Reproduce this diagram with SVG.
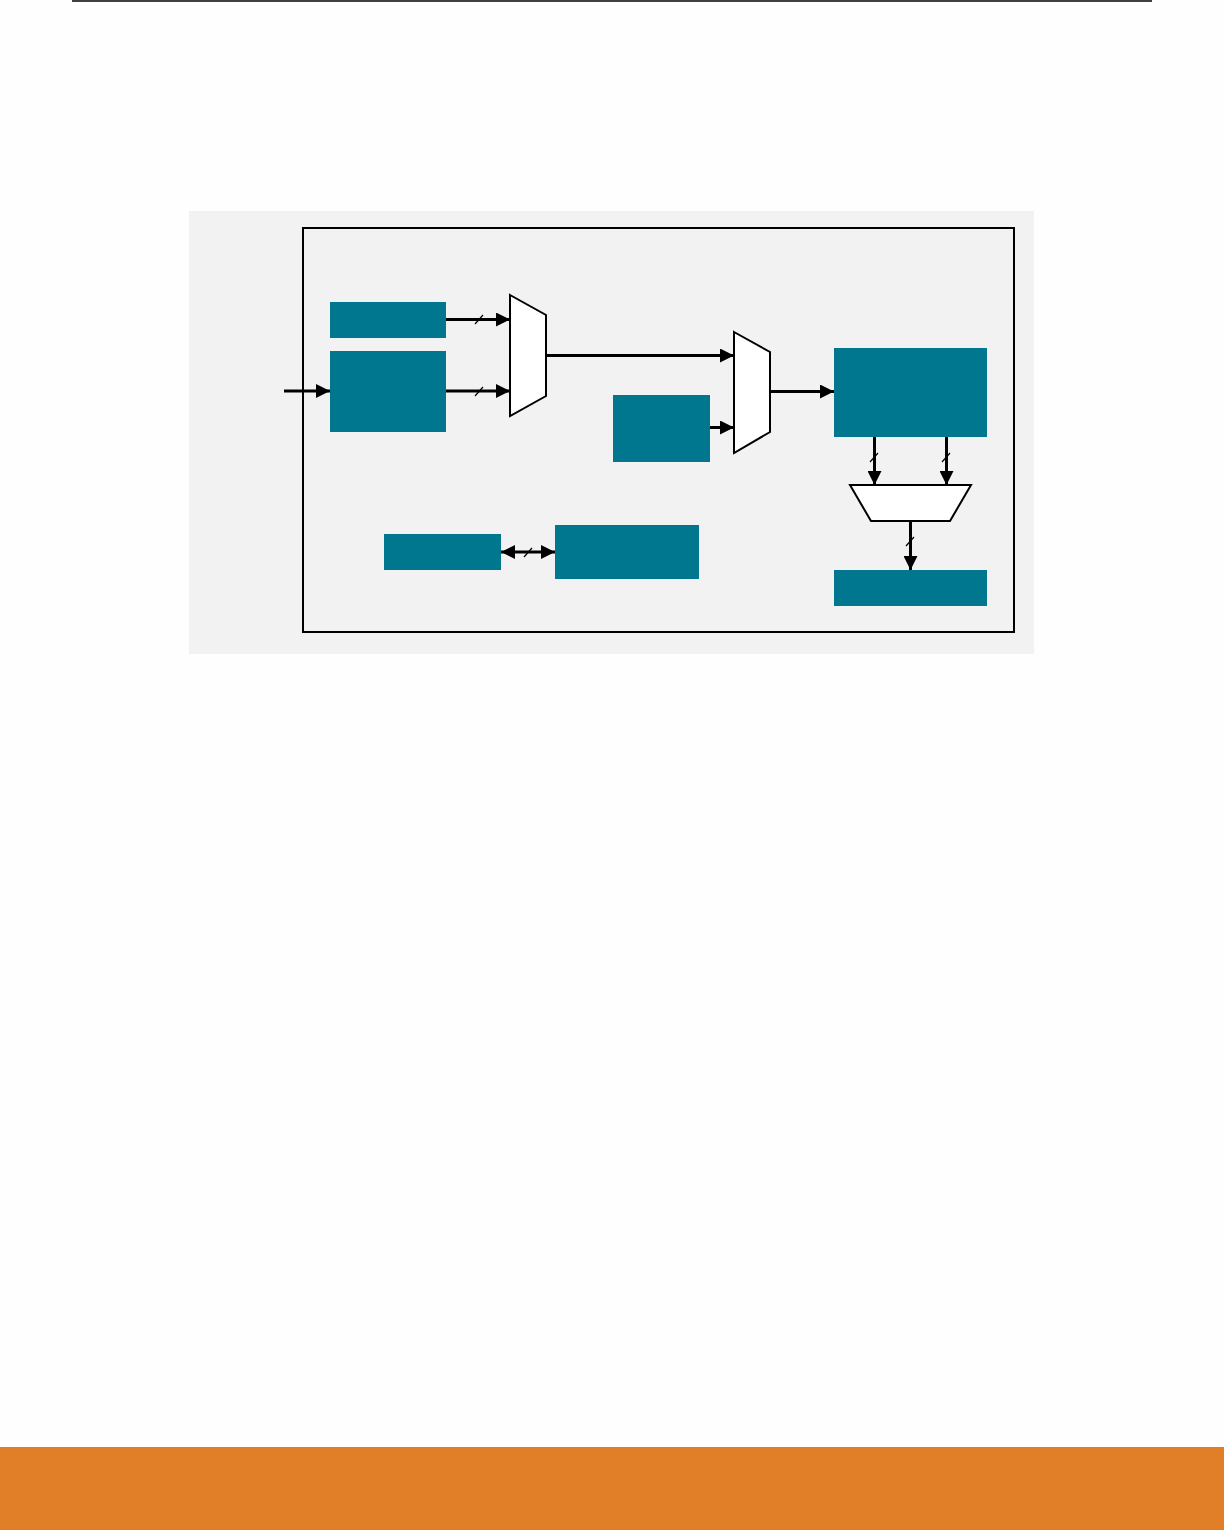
<svg xmlns="http://www.w3.org/2000/svg" width="1224" height="1530" viewBox="0 0 1224 1530">
<style>
.blk{fill:#00778f}
.mux{fill:#ffffff;stroke:#000;stroke-width:2;stroke-linejoin:miter}
.w{stroke:#000;stroke-width:3;fill:none}
.sl{stroke:#000;stroke-width:1.2;fill:none}
</style>
<defs>
<marker id="ah" markerUnits="userSpaceOnUse" markerWidth="14" markerHeight="14" refX="14" refY="7" orient="auto-start-reverse" viewBox="0 0 14 14">
<path d="M0,0 L14,7 L0,14 z" fill="#000"/>
</marker>
</defs>
<rect x="0" y="0" width="1224" height="1530" fill="#fefefe"/>
<line x1="72" y1="1" x2="1152" y2="1" stroke="#000" stroke-width="1.5"/>
<rect x="0" y="1447" width="1224" height="83" fill="#e07f28"/>
<rect x="189" y="211" width="845" height="443" fill="#f2f2f2"/>
<rect id="frame" x="303" y="228" width="711" height="404" fill="none" stroke="#000" stroke-width="2"/>
<g id="b1"><rect class="blk" x="330" y="302" width="116" height="36"/></g>
<g id="b2"><rect class="blk" x="330" y="351" width="116" height="81"/></g>
<g id="b3"><rect class="blk" x="613" y="395" width="97" height="67"/></g>
<g id="b4"><rect class="blk" x="834" y="348" width="153" height="89"/></g>
<g id="b5"><rect class="blk" x="834" y="570" width="153" height="36"/></g>
<g id="b6"><rect class="blk" x="384" y="534" width="117" height="36"/></g>
<g id="b7"><rect class="blk" x="555" y="525" width="144" height="54"/></g>
<g id="mux1"><polygon class="mux" points="510,295 546,315 546,396 510,416"/></g>
<g id="mux2"><polygon class="mux" points="734,332 770,352 770,432 734,453"/></g>
<g id="mux3"><polygon class="mux" points="850,485 971,485 950,521 871,521"/></g>
<g id="connectors">
<line class="w" x1="284" y1="391" x2="330" y2="391" marker-end="url(#ah)"/>
<line class="w" x1="446" y1="319.5" x2="510" y2="319.5" marker-end="url(#ah)"/>
<line class="w" x1="446" y1="391" x2="510" y2="391" marker-end="url(#ah)"/>
<line class="sl" x1="475" y1="324" x2="483" y2="315"/>
<line class="sl" x1="475" y1="396" x2="483" y2="387"/>
<line class="w" x1="546" y1="355.5" x2="734" y2="355.5" stroke-width="2.5" marker-end="url(#ah)"/>
<line class="w" x1="710" y1="427.5" x2="734" y2="427.5" stroke-width="2.5" marker-end="url(#ah)"/>
<line class="w" x1="770" y1="391.5" x2="834" y2="391.5" stroke-width="2" marker-end="url(#ah)"/>
<line class="w" x1="874.5" y1="437" x2="874.5" y2="485" marker-end="url(#ah)"/>
<line class="w" x1="946.5" y1="437" x2="946.5" y2="485" marker-end="url(#ah)"/>
<line class="sl" x1="870" y1="462" x2="878" y2="453"/>
<line class="sl" x1="942" y1="462" x2="950" y2="453"/>
<line class="w" x1="910.5" y1="521" x2="910.5" y2="570" marker-end="url(#ah)"/>
<line class="sl" x1="906" y1="546" x2="914" y2="537"/>
<line class="w" x1="501" y1="552" x2="555" y2="552" marker-start="url(#ah)" marker-end="url(#ah)"/>
<line class="sl" x1="524" y1="557" x2="532" y2="548"/>
</g>
</svg>
